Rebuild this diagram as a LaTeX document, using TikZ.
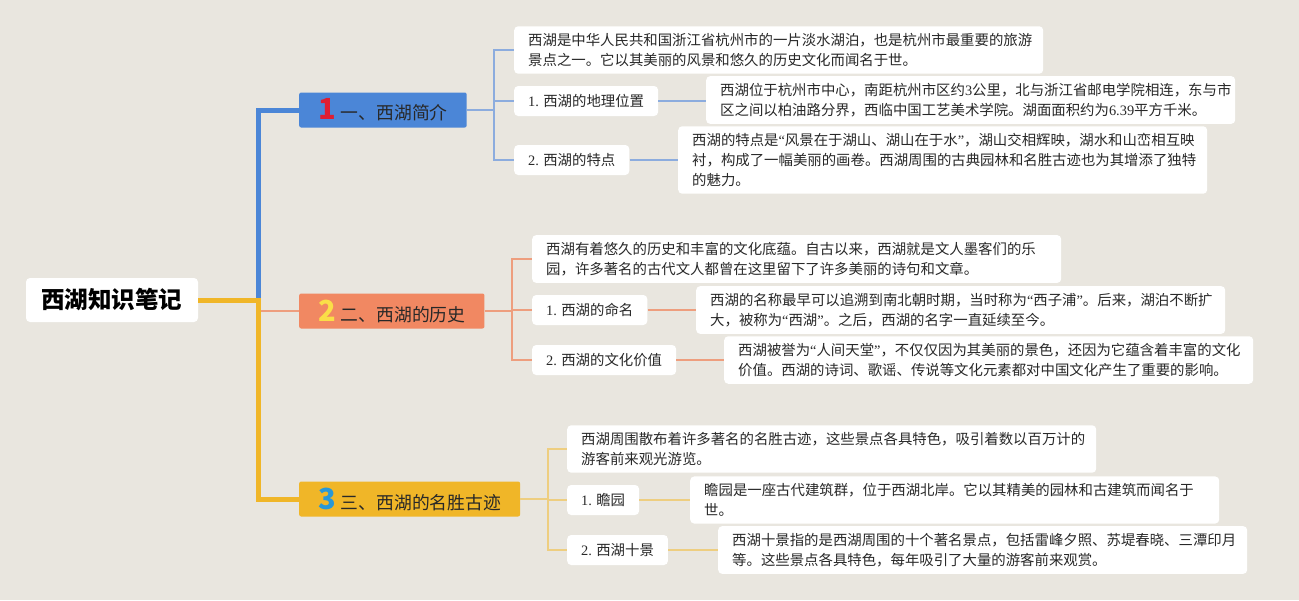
\documentclass[tikz,border=0pt]{standalone}
\usepackage{fontspec}
\setmainfont{Noto Sans CJK SC}
\newfontfamily\latinfont{Liberation Serif}
\usetikzlibrary{calc}
\definecolor{bgcol}{RGB}{233,230,223}
\definecolor{topicblue}{RGB}{75,134,215}
\definecolor{topicorange}{RGB}{241,136,98}
\definecolor{topicyellow}{RGB}{240,182,40}
\definecolor{lineblue}{RGB}{140,172,222}
\definecolor{lineorange}{RGB}{238,158,126}
\definecolor{lineyellow}{RGB}{238,206,128}
\definecolor{numred}{RGB}{222,30,50}
\definecolor{numyellow}{RGB}{250,222,72}
\definecolor{numblue}{RGB}{40,152,215}
\definecolor{inkcol}{RGB}{40,40,40}
\newcommand\topicnum[2]{{\fontsize{29}{29}\selectfont\bfseries\color{#1}#2}\hspace{5pt}}
\newcommand\lat[1]{{\latinfont #1}}
\newcommand\qt[1]{{\latinfont “}#1{\latinfont ”}}
\begin{document}
\begin{tikzpicture}[x=1pt, y=-1pt,
  card/.style={fill=white, rounded corners=4pt, inner xsep=14pt, inner ysep=7pt,
    anchor=west, text=inkcol, font=\fontsize{14.4}{20}\selectfont},
  note/.style={card, text width=501pt, align=left},
  leaf/.style={card, minimum height=30pt, inner ysep=0pt},
  topic/.style={rounded corners=2pt, minimum height=35pt, inner xsep=19pt, inner ysep=0pt,
    anchor=west, text=inkcol, font=\fontsize{17.8}{20}\selectfont},
  trunkblue/.style={draw=topicblue, line width=5pt},
  trunkyellow/.style={draw=topicyellow, line width=5pt},
  thinblue/.style={draw=lineblue, line width=1.5pt},
  thinorange/.style={draw=lineorange, line width=1.5pt},
  thinyellow/.style={draw=lineyellow, line width=1.5pt}]
\fill[bgcol] (0,0) rectangle (1299,600);
\useasboundingbox (0,0) rectangle (1299,600);

% root
\node[fill=white, rounded corners=4pt, minimum width=172pt, minimum height=44pt,
  text=black, font=\fontsize{23.5}{23.5}\selectfont\bfseries] (root) at (112,300) {西湖知识笔记};

% topics
\node[topic, fill=topicblue] (b1) at (299,110) {\topicnum{numred}{1}一、西湖简介};
\node[topic, fill=topicorange] (b2) at (299,311) {\topicnum{numyellow}{2}二、西湖的历史};
\node[topic, fill=topicyellow] (b3) at (299,499) {\topicnum{numblue}{3}三、西湖的名胜古迹};

\coordinate (trunk) at (258,300);
\draw[trunkblue] (trunk) |- (b1.west);
\draw[thinorange, line width=2pt] (trunk |- b2.west) -- (b2.west);
\draw[trunkyellow] (root.east) -- (trunk) |- (b3.west);

% branch 1
\node[note] (t1) at (514,50) {西湖是中华人民共和国浙江省杭州市的一片淡水湖泊，也是杭州市最重要的旅游\\景点之一。它以其美丽的风景和悠久的历史文化而闻名于世。};
\node[leaf] (l11) at (514,101) {\lat{1.} 西湖的地理位置};
\node[leaf] (l12) at (514,160) {\lat{2.} 西湖的特点};
\node[note] (d11) at (706,100) {西湖位于杭州市中心，南距杭州市区约\lat{3}公里，北与浙江省邮电学院相连，东与市\\区之间以柏油路分界，西临中国工艺美术学院。湖面面积约为\lat{6.39}平方千米。};
\node[note] (d12) at (678,160) {西湖的特点是\qt{风景在于湖山、湖山在于水}，湖山交相辉映，湖水和山峦相互映\\衬，构成了一幅美丽的画卷。西湖周围的古典园林和名胜古迹也为其增添了独特\\的魅力。};
\coordinate (j1) at (494,110);
\draw[thinblue] (b1.east) -- (j1);
\draw[thinblue] (j1) |- (t1.west);
\draw[thinblue] (j1) |- (l11.west);
\draw[thinblue] (j1) |- (l12.west);
\draw[thinblue] (l11.east) -- (l11.east -| d11.west);
\draw[thinblue] (l12.east) -- (l12.east -| d12.west);

% branch 2
\node[note] (t2) at (532,259) {西湖有着悠久的历史和丰富的文化底蕴。自古以来，西湖就是文人墨客们的乐\\园，许多著名的古代文人都曾在这里留下了许多美丽的诗句和文章。};
\node[leaf] (l21) at (532,310) {\lat{1.} 西湖的命名};
\node[leaf] (l22) at (532,360) {\lat{2.} 西湖的文化价值};
\node[note] (d21) at (696,310) {西湖的名称最早可以追溯到南北朝时期，当时称为\qt{西子浦}。后来，湖泊不断扩\\大，被称为\qt{西湖}。之后，西湖的名字一直延续至今。};
\node[note] (d22) at (724,360) {西湖被誉为\qt{人间天堂}，不仅仅因为其美丽的景色，还因为它蕴含着丰富的文化\\价值。西湖的诗词、歌谣、传说等文化元素都对中国文化产生了重要的影响。};
\coordinate (j2) at (512,311);
\draw[thinorange] (b2.east) -- (j2);
\draw[thinorange] (j2) |- (t2.west);
\draw[thinorange] (j2) |- (l21.west);
\draw[thinorange] (j2) |- (l22.west);
\draw[thinorange] (l21.east) -- (l21.east -| d21.west);
\draw[thinorange] (l22.east) -- (l22.east -| d22.west);

% branch 3
\node[note] (t3) at (567,449) {西湖周围散布着许多著名的名胜古迹，这些景点各具特色，吸引着数以百万计的\\游客前来观光游览。};
\node[leaf] (l31) at (567,500) {\lat{1.} 瞻园};
\node[leaf] (l32) at (567,550) {\lat{2.} 西湖十景};
\node[note] (d31) at (690,500) {瞻园是一座古代建筑群，位于西湖北岸。它以其精美的园林和古建筑而闻名于\\世。};
\node[note] (d32) at (718,550) {西湖十景指的是西湖周围的十个著名景点，包括雷峰夕照、苏堤春晓、三潭印月\\等。这些景点各具特色，每年吸引了大量的游客前来观赏。};
\coordinate (j3) at (548,499);
\draw[thinyellow] (b3.east) -- (j3);
\draw[thinyellow] (j3) |- (t3.west);
\draw[thinyellow] (j3) |- (l31.west);
\draw[thinyellow] (j3) |- (l32.west);
\draw[thinyellow] (l31.east) -- (l31.east -| d31.west);
\draw[thinyellow] (l32.east) -- (l32.east -| d32.west);
\end{tikzpicture}
\end{document}
